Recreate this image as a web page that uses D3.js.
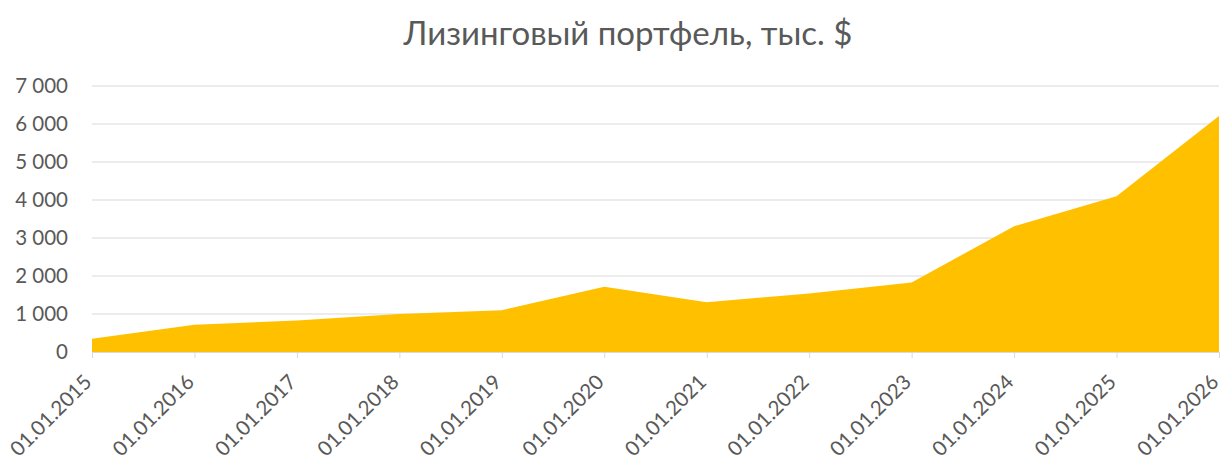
<!DOCTYPE html>
<html>
<head>
<meta charset="utf-8">
<script src="https://cdn.jsdelivr.net/npm/d3@7"></script>
<style>
  body { margin: 0; background: #fff; }
  text { font-family: Lato, "Open Sans", sans-serif; fill: #595959; }
</style>
</head>
<body>
<div id="chart"></div>
<script>
// values
var dates = ['01.01.2015', '01.01.2016', '01.01.2017', '01.01.2018', '01.01.2019', '01.01.2020',
             '01.01.2021', '01.01.2022', '01.01.2023', '01.01.2024', '01.01.2025', '01.01.2026']
var portfolio = [350, 720, 830, 1000, 1100, 1720, 1310, 1540, 1830, 3310, 4100, 6210]
var yTicks = [0, 1000, 2000, 3000, 4000, 5000, 6000, 7000]

var width = 1225, height = 459
var margin = {top: 86, right: 6, bottom: 107, left: 92}
var w = width - margin.left - margin.right
var h = height - margin.top - margin.bottom

var svg = d3.select("#chart").append("svg")
    .attr("width", width)
    .attr("height", height)

svg.append("text")
    .attr("x", 628)
    .attr("y", 45)
    .attr("text-anchor", "middle")
    .style("font-size", "33px")
    .text("Лизинговый портфель, тыс. $")

var g = svg.append("g")
    .attr("transform", "translate(" + margin.left + "," + margin.top + ")")

var x = d3.scalePoint().domain(dates).range([0, w])
var y = d3.scaleLinear().domain([0, 7000]).range([h, 0])

var fmt = function(d) { return d3.format(",")(d).replace(/,/g, " ") }

// gridlines
g.selectAll("line.grid")
    .data(yTicks.filter(d => d > 0))
    .enter().append("line")
    .attr("class", "grid")
    .attr("x1", 0).attr("x2", w)
    .attr("y1", d => y(d)).attr("y2", d => y(d))
    .attr("stroke", "#d9d9d9")
    .attr("stroke-width", 1)

var data = dates.map((d, i) => ({date: d, value: portfolio[i]}))

var area = d3.area()
    .x(d => x(d.date))
    .y0(y(0))
    .y1(d => y(d.value))

g.append("path")
    .datum(data)
    .attr("fill", "#FFC000")
    .attr("d", area)

// y axis labels
var yAxis = g.append("g")
    .call(d3.axisLeft(y).tickValues(yTicks).tickFormat(fmt).tickSize(0).tickPadding(24))
yAxis.select(".domain").remove()
yAxis.selectAll("text")
    .style("font-size", "20.5px")
    .style("font-family", "Lato, 'Open Sans', sans-serif")
    .attr("fill", "#595959")

// x axis
var xAxis = g.append("g")
    .attr("transform", "translate(0," + h + ")")
    .call(d3.axisBottom(x).tickSize(6).tickSizeOuter(0))
xAxis.select(".domain").attr("stroke", "#d9d9d9")
xAxis.selectAll(".tick line").attr("stroke", "#d9d9d9")
xAxis.selectAll("text")
    .style("font-size", "20.5px")
    .style("font-family", "Lato, 'Open Sans', sans-serif")
    .attr("fill", "#595959")
    .attr("text-anchor", "end")
    .attr("dx", "0")
    .attr("dy", "0")
    .attr("transform", "translate(-6,25) rotate(-45)")
</script>
</body>
</html>
